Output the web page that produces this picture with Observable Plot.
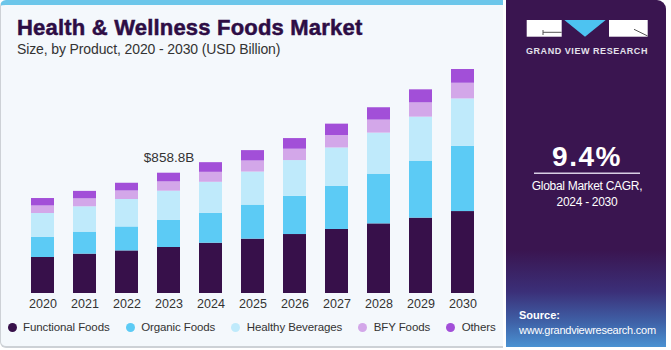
<!DOCTYPE html>
<html><head><meta charset="utf-8">
<script src="https://cdn.jsdelivr.net/npm/d3@7"></script>
<script src="https://cdn.jsdelivr.net/npm/@observablehq/plot@0.6"></script>
<style>
body{margin:0;background:#fff;font-family:"Liberation Sans",Arial,sans-serif;}
#wrap{position:relative;width:671px;height:350px;overflow:hidden;}
#left{position:absolute;left:0;top:0;width:502px;height:341px;background:#f4f8fc;border-top:5px solid #6cc6ea;border-left:1.5px solid #cdd1d6;border-bottom:2px solid #cdd1d6;border-radius:6px 0 0 6px;}
#title{position:absolute;left:17px;top:17px;font-size:22px;line-height:22px;font-weight:bold;color:#2d0d45;letter-spacing:0.2px;-webkit-text-stroke:0.5px #2d0d45;white-space:nowrap;}
#subtitle{position:absolute;left:17px;top:42px;font-size:14px;line-height:14px;color:#333;letter-spacing:-0.12px;white-space:nowrap;}
#chart{position:absolute;left:0;top:60px;}
#legend{position:absolute;left:7.5px;top:320px;display:flex;align-items:center;gap:16px;font-size:11.5px;line-height:14px;color:#333;letter-spacing:-0.1px;white-space:nowrap;}
#legend .item{display:flex;align-items:center;gap:6.5px;}
#legend .dot{width:9px;height:9px;border-radius:50%;display:inline-block;}
#side{position:absolute;left:506px;top:0;width:160px;height:347px;border-radius:0 9px 0 0;
background:linear-gradient(to bottom,#3a1550 0%,#3a1550 72%,#3b2f78 84%,#3f62a8 93%,#4a92d2 100%);}
#sideSvg{position:absolute;left:506px;top:0;}
</style>
</head><body>
<div id="wrap">
  <div id="left"></div>
  <div id="title">Health &amp; Wellness Foods Market</div>
  <div id="subtitle">Size, by Product, 2020 - 2030 (USD Billion)</div>
  <div id="chart"></div>
  <div id="legend"></div>
  <div id="side"></div>
  <svg id="sideSvg" width="160" height="347" font-family="Liberation Sans, Arial, sans-serif">
    <rect x="20.7" y="20" width="35" height="16.7" fill="#fff"/>
    <line x1="37" y1="32.3" x2="55.7" y2="32.3" stroke="#555" stroke-width="1"/>
    <line x1="37" y1="30" x2="37" y2="35" stroke="#555" stroke-width="1"/>
    <polygon points="58.3,20 99.7,20 79,36.7" fill="#4dc3f1"/>
    <rect x="103" y="20" width="38.7" height="16.7" fill="#fff"/>
    <line x1="128" y1="29.3" x2="141.7" y2="36" stroke="#555" stroke-width="1"/>
    <text x="81" y="54" text-anchor="middle" font-size="9" font-weight="bold" letter-spacing="0.55" fill="#e4e2ec">GRAND VIEW RESEARCH</text>
    <text x="81" y="166" text-anchor="middle" font-size="28" font-weight="bold" letter-spacing="1.5" fill="#fff">9.4%</text>
    <line x1="28" y1="173.3" x2="134" y2="173.3" stroke="#d8cfe4" stroke-width="1.5"/>
    <text x="81" y="190" text-anchor="middle" font-size="12" letter-spacing="-0.3" fill="#fff">Global Market CAGR,</text>
    <text x="81" y="206" text-anchor="middle" font-size="12" letter-spacing="-0.3" fill="#fff">2024 - 2030</text>
    <text x="13" y="319" font-size="11" font-weight="bold" fill="#fff">Source:</text>
    <text x="13" y="334" font-size="11" letter-spacing="-0.25" fill="#fff">www.grandviewresearch.com</text>
  </svg>
</div>
<script>
const years = ["2020","2021","2022","2023","2024","2025","2026","2027","2028","2029","2030"];
const series = ["Functional Foods","Organic Foods","Healthy Beverages","BFY Foods","Others"];
const functionalFoods  = [257, 281, 304, 328.4, 359, 388, 421, 457, 497, 538, 585];
const organicFoods     = [145, 157, 171, 195,   214, 243, 273, 309, 355, 407, 466];
const healthyBeverages = [169, 181, 196, 207,   221, 236, 255, 273, 293, 314, 338];
const bfyFoods         = [54,  57,  61,  66.4,  71,  79,  81,  89,  93,  102, 112];
const others           = [53,  53,  55,  62,    69,  74,  76,  81,  88,  93,  98];
const colors = ["#37104a","#5ccbf5","#bfeafb","#d3a7e9","#a24fd8"];
const annotation = [{year: "2023", label: "$858.8B"}];

const valuesBySeries = [functionalFoods, organicFoods, healthyBeverages, bfyFoods, others];
const rows = series.flatMap((s, i) => years.map((y, j) => ({year: y, series: s, value: valuesBySeries[i][j]})));
const totals = years.map((y, j) => ({year: y, total: d3.sum(valuesBySeries, v => v[j])}));
const annoRows = annotation.map(a => ({...a, total: totals.find(t => t.year === a.year).total}));

const W = 500, H = 254, base = 233;
const pxPerUnit = 120.3 / 858.8;
const chart = Plot.plot({
  width: W, height: H,
  marginLeft: 31, marginRight: W - 474.3, marginTop: 0, marginBottom: H - base,
  style: {background: "transparent", fontFamily: "Liberation Sans, Arial, sans-serif", fontSize: "12.5px", color: "#333"},
  x: {domain: years, paddingInner: 0.45, paddingOuter: 0, label: null, tickSize: 0, tickPadding: 6},
  y: {domain: [0, 1600], range: [base, base - 1600 * pxPerUnit], axis: null},
  color: {domain: series, range: colors},
  marks: [
    Plot.barY(rows, {x: "year", y: "value", fill: "series", order: series}),
    Plot.text(annoRows, {x: "year", y: "total", text: "label", dy: -16, fontSize: 13.5, fill: "#333"})
  ]
});
document.getElementById("chart").appendChild(chart);

const legend = document.getElementById("legend");
series.forEach((s, i) => {
  const item = document.createElement("span");
  item.className = "item";
  const dot = document.createElement("span");
  dot.className = "dot";
  dot.style.background = colors[i];
  item.appendChild(dot);
  item.appendChild(document.createTextNode(s));
  legend.appendChild(item);
});
</script>
</body></html>
